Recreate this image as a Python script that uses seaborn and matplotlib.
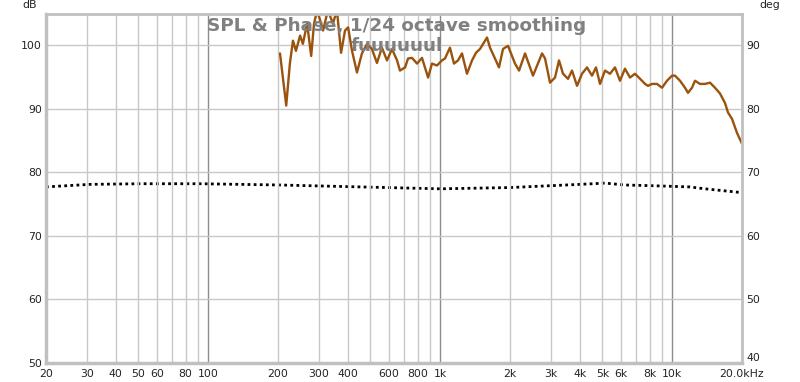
"""
plot.py — SPL & Phase chart (REW style), 1/24 octave smoothing.
"""
import numpy as np
import pandas as pd
import matplotlib
matplotlib.use("Agg")
import matplotlib.pyplot as plt
import seaborn as sns

# ─────────────────────────────────────────────────────────────────────────────
# Data
# ─────────────────────────────────────────────────────────────────────────────

spl_freq = [204, 217, 225, 232, 239, 249, 256, 267, 278, 286, 295, 313, 328, 345,
            359, 374, 389, 401, 417, 438, 460, 484, 508, 534, 561, 590, 620, 652,
            671, 706, 727, 756, 795, 835, 887, 922, 969, 1018, 1049, 1102, 1147,
            1194, 1242, 1305, 1372, 1427, 1485, 1592, 1640, 1723, 1793, 1866,
            1961, 2102, 2188, 2322, 2513, 2749, 2832, 2975, 3126, 3253, 3385,
            3557, 3701, 3890, 4087, 4295, 4513, 4696, 4887, 5135, 5396, 5670,
            5958, 6260, 6578, 6913, 7413, 7638, 7868, 8188, 8604, 9042, 9501,
            9985, 10286, 10810, 11358, 11702, 12176, 12544, 13183, 13853, 14558,
            15297, 16076, 16893, 17408, 18115, 19031, 20000]
spl_db = [98.7, 90.5, 97.1, 100.7, 99.1, 101.5, 100.2, 103.4, 98.3, 103.4, 105.5,
          102.3, 105.5, 103.4, 105.5, 98.8, 102.3, 102.8, 99.1, 95.7, 98.7, 100.2,
          99.4, 97.2, 99.6, 97.6, 99.4, 97.6, 96.0, 96.5, 97.9, 98.0, 97.1, 98.0,
          94.9, 97.1, 96.8, 97.6, 97.9, 99.6, 97.1, 97.6, 98.7, 95.5, 97.6, 98.8,
          99.4, 101.2, 99.6, 97.9, 96.5, 99.4, 99.9, 97.1, 96.0, 98.7, 95.2, 98.7,
          97.9, 94.1, 94.9, 97.6, 95.5, 94.7, 96.0, 93.6, 95.5, 96.5, 95.2, 96.5,
          93.9, 96.0, 95.5, 96.5, 94.4, 96.3, 94.9, 95.5, 94.4, 93.9, 93.6, 93.9,
          93.9, 93.3, 94.4, 95.2, 95.2, 94.4, 93.3, 92.5, 93.3, 94.4, 93.9, 93.9,
          94.1, 93.3, 92.4, 90.9, 89.4, 88.4, 86.2, 84.5]

phase_freq = [20, 31, 51, 92, 204, 450, 1000, 2000, 4006, 5135, 6260, 8020,
              11880, 13853, 20000]
phase_deg = [67.7, 68.1, 68.2, 68.2, 68.0, 67.7, 67.4, 67.6, 68.1, 68.3, 68.0,
             67.9, 67.7, 67.4, 66.8]

grid_freqs = [20, 30, 40, 50, 60, 70, 80, 90, 100, 200, 300, 400, 500, 600, 700,
              800, 900, 1000, 2000, 3000, 4000, 5000, 6000, 7000, 8000, 9000,
              10000, 20000]
label_freqs = [20, 30, 40, 50, 60, 80, 100, 200, 300, 400, 600, 800, 1000, 2000,
               3000, 4000, 5000, 6000, 8000, 10000, 20000]
label_texts = ["20", "30", "40", "50", "60", "80", "100", "200", "300", "400",
               "600", "800", "1k", "2k", "3k", "4k", "5k", "6k", "8k", "10k",
               "20.0kHz"]
db_ticks = [50, 60, 70, 80, 90, 100]
deg_ticks = [40, 50, 60, 70, 80, 90]

SPL_COLOR = "#9A520C"
GRID_LIGHT = "#C8C8C8"
GRID_DARK = "#8C8C8C"
TEXT_GRAY = "#808080"

sns.set_style("white")
plt.rcParams.update({
    "font.family": ["DejaVu Sans"],
    "font.size": 7.8,
})

# ─────────────────────────────────────────────────────────────────────────────
# Figure
# ─────────────────────────────────────────────────────────────────────────────

fig = plt.figure(figsize=(8, 3.82), dpi=100)
ax = fig.add_axes([46 / 800, 19 / 382, 696 / 800, 349 / 382])
ax.set_xscale("log")
ax.set_xlim(20, 20000)
ax.set_ylim(50, 104.9)

# Grid
for f in grid_freqs:
    dark = f in (100, 1000, 10000)
    ax.axvline(f, color=GRID_DARK if dark else GRID_LIGHT, lw=1.0, zorder=0)
for d in db_ticks[1:]:
    ax.axhline(d, color=GRID_LIGHT, lw=1.0, zorder=0)

ax2 = ax.twinx()
ax2.set_ylim(40, 94.9)

spl_df = pd.DataFrame({"freq": spl_freq, "spl": spl_db})
phase_df = pd.DataFrame({"freq": phase_freq, "phase": phase_deg})

sns.lineplot(data=phase_df, x="freq", y="phase", ax=ax2, color="black",
             lw=2.0, linestyle=(0, (1, 1.2)), zorder=3)
sns.lineplot(data=spl_df, x="freq", y="spl", ax=ax,
             color=SPL_COLOR, lw=1.7, zorder=4)
ax.set_zorder(2)
ax2.set_zorder(1)
ax.patch.set_visible(False)

ax.set_xscale("log")
ax.set_xlim(20, 20000)

# X ticks
ax.xaxis.set_major_locator(matplotlib.ticker.FixedLocator(label_freqs))
ax.xaxis.set_minor_locator(matplotlib.ticker.NullLocator())
ax.set_xticklabels(label_texts)
ax.tick_params(axis="x", length=0, pad=4, labelsize=7.8, colors="#222222")
ax.set_xlabel("")
ax.set_ylabel("")
ax2.set_ylabel("")

# Y ticks
ax.set_yticks(db_ticks)
ax.tick_params(axis="y", length=0, pad=3, labelsize=7.8, colors="#222222")
ax2.set_yticks(deg_ticks)
ax2.tick_params(axis="y", length=0, pad=3, labelsize=7.8, colors="#222222")
for lbl in ax2.get_yticklabels():
    if lbl.get_text() == "40":
        lbl.set_verticalalignment("bottom")

# Borders (3D-ish REW frame)
for name, sp in ax.spines.items():
    sp.set_color("#C0C0C0")
    sp.set_linewidth(2.5 if name in ("left", "bottom") else 2.0)
    sp.set_zorder(6)
for sp in ax2.spines.values():
    sp.set_visible(False)

# Axis unit labels
fig.text(30 / 800, 1 - 5 / 382, "dB", ha="center", va="center",
         fontsize=7.8, color="#222222")
fig.text(770 / 800, 1 - 5 / 382, "deg", ha="center", va="center",
         fontsize=7.8, color="#222222")

# Title inside the plot
fig.text(397 / 800, 1 - 26 / 382, "SPL & Phase, 1/24 octave smoothing",
         ha="center", va="center", fontsize=13.2, fontweight="bold",
         color=TEXT_GRAY, zorder=10)
fig.text(397 / 800, 1 - 46 / 382, "fuuuuuul",
         ha="center", va="center", fontsize=13.2, fontweight="bold",
         color=TEXT_GRAY, zorder=10)

fig.savefig("out.png", dpi=100)
